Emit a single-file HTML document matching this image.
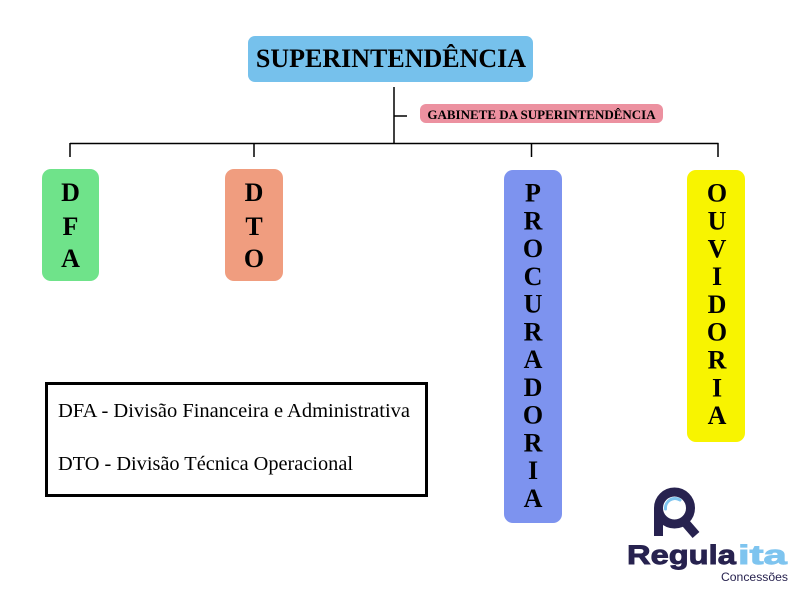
<!DOCTYPE html>
<html>
<head>
<meta charset="utf-8">
<style>
html,body{margin:0;padding:0;background:#fff;}
svg{display:block;}
text{font-family:"Liberation Serif",serif;}
</style>
</head>
<body>
<svg width="800" height="600" viewBox="0 0 800 600" xmlns="http://www.w3.org/2000/svg">
  <rect x="0" y="0" width="800" height="600" fill="#ffffff"/>

  <!-- Title -->
  <rect x="248" y="36" width="285" height="46" rx="7" fill="#76c1ec"/>
  <text x="391" y="67" text-anchor="middle" font-size="26" font-weight="bold" fill="#000">SUPERINTENDÊNCIA</text>

  <!-- Connectors -->
  <g stroke="#000" stroke-width="1.5" fill="none">
    <line x1="394" y1="87" x2="394" y2="143.5"/>
    <line x1="394" y1="116" x2="407" y2="116"/>
    <line x1="70" y1="143.5" x2="718.5" y2="143.5"/>
    <line x1="70" y1="143" x2="70" y2="157"/>
    <line x1="254" y1="143" x2="254" y2="157"/>
    <line x1="531.5" y1="143" x2="531.5" y2="157"/>
    <line x1="718" y1="143" x2="718" y2="157"/>
  </g>

  <!-- Gabinete -->
  <rect x="420" y="104" width="243" height="19" rx="6" fill="#ec91a0"/>
  <text x="541.5" y="119" text-anchor="middle" font-size="13" font-weight="bold" fill="#000">GABINETE DA SUPERINTENDÊNCIA</text>

  <!-- DFA -->
  <rect x="42" y="169" width="57" height="112" rx="9" fill="#6fe38a"/>
  <g font-size="26" font-weight="bold" text-anchor="middle" fill="#000">
    <text x="70.5" y="201">D</text>
    <text x="70.5" y="235">F</text>
    <text x="70.5" y="267">A</text>
  </g>

  <!-- DTO -->
  <rect x="225" y="169" width="58" height="112" rx="9" fill="#f09d7f"/>
  <g font-size="26" font-weight="bold" text-anchor="middle" fill="#000">
    <text x="254" y="201">D</text>
    <text x="254" y="235">T</text>
    <text x="254" y="267">O</text>
  </g>

  <!-- PROCURADORIA -->
  <rect x="504" y="170" width="58" height="353" rx="9" fill="#7d93ef"/>
  <g font-size="26" font-weight="bold" text-anchor="middle" fill="#000">
    <text x="533" y="201.5">P</text>
    <text x="533" y="229.3">R</text>
    <text x="533" y="257">O</text>
    <text x="533" y="284.8">C</text>
    <text x="533" y="312.5">U</text>
    <text x="533" y="340.3">R</text>
    <text x="533" y="368">A</text>
    <text x="533" y="395.8">D</text>
    <text x="533" y="423.5">O</text>
    <text x="533" y="451.3">R</text>
    <text x="533" y="479">I</text>
    <text x="533" y="506.8">A</text>
  </g>

  <!-- OUVIDORIA -->
  <rect x="687" y="170" width="58" height="272" rx="9" fill="#f8f400"/>
  <g font-size="26" font-weight="bold" text-anchor="middle" fill="#000">
    <text x="717" y="201.7">O</text>
    <text x="717" y="229.5">U</text>
    <text x="717" y="257.3">V</text>
    <text x="717" y="285.1">I</text>
    <text x="717" y="312.9">D</text>
    <text x="717" y="340.7">O</text>
    <text x="717" y="368.5">R</text>
    <text x="717" y="396.3">I</text>
    <text x="717" y="424">A</text>
  </g>

  <!-- Legend -->
  <rect x="46.5" y="383.5" width="380" height="112" fill="#fff" stroke="#000" stroke-width="3"/>
  <text x="58" y="417" font-size="20.5" fill="#000" textLength="352" lengthAdjust="spacingAndGlyphs">DFA - Divisão Financeira e Administrativa</text>
  <text x="58" y="470" font-size="20.5" fill="#000" textLength="295" lengthAdjust="spacingAndGlyphs">DTO - Divisão Técnica Operacional</text>

  <!-- Logo -->
  <g>
    <rect x="654" y="508" width="9" height="28" fill="#27224f"/>
    <circle cx="674.5" cy="508" r="16" fill="none" stroke="#27224f" stroke-width="9"/>
    <line x1="683" y1="520" x2="696" y2="535" stroke="#27224f" stroke-width="9"/>
    <path d="M 665.5 509 A 9.5 9.5 0 0 1 680 500" fill="none" stroke="#7ec4ef" stroke-width="3" stroke-linecap="round"/>
    <text transform="translate(627,564) scale(1.21,1)" x="0" y="0" font-size="27" font-weight="bold" fill="#27224f" stroke="#27224f" stroke-width="0.9" style="font-family:'Liberation Sans',sans-serif">Regula</text>
    <text transform="translate(738,564) scale(1.55,1)" x="0" y="0" font-size="27" font-weight="bold" fill="#7ec4ef" stroke="#7ec4ef" stroke-width="0.9" style="font-family:'Liberation Sans',sans-serif">ita</text>
    <text x="721" y="581" font-size="12" fill="#27224f" textLength="67" lengthAdjust="spacingAndGlyphs" style="font-family:'Liberation Sans',sans-serif">Concessões</text>
  </g>
</svg>
</body>
</html>
